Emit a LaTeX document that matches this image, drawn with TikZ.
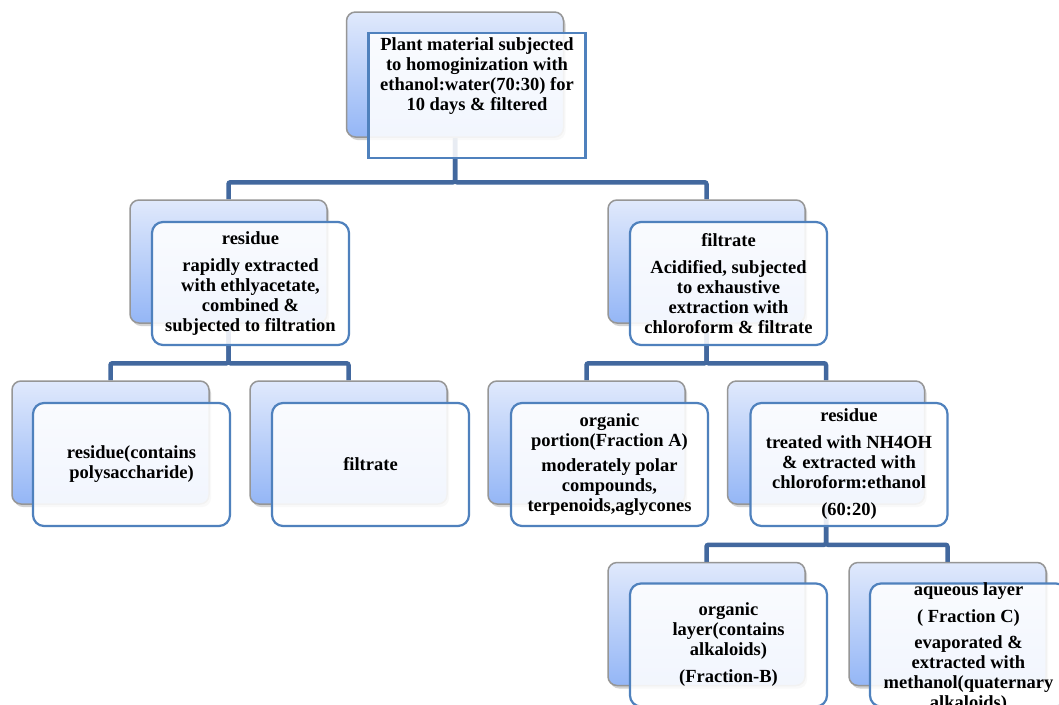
\documentclass[tikz,border=0pt]{standalone}
\usepackage{fontspec}
\setmainfont{Liberation Serif}
\usetikzlibrary{shadows, backgrounds}
\definecolor{linkblue}{RGB}{66,104,158}
\definecolor{edgeblue}{RGB}{79,129,189}
\definecolor{cardtop}{RGB}{224,233,252}
\definecolor{cardbot}{RGB}{148,182,246}
\definecolor{cardgray}{RGB}{150,150,150}
\tikzset{backbox/.style={rectangle, rounded corners=9pt, draw=cardgray, line width=1.5pt,
  top color=cardtop, bottom color=cardbot, minimum width=197pt, minimum height=123pt,
  drop shadow={shadow xshift=2pt, shadow yshift=-3pt, opacity=0.35}}}
\tikzset{frontbox/.style={rectangle, rounded corners=11pt, draw=edgeblue, line width=2.2pt,
  fill=white, fill opacity=0.88, minimum width=197pt, minimum height=123pt}}
\tikzset{boxtext/.style={align=center, font=\fontsize{18.5}{20}\selectfont\bfseries, inner sep=0pt}}
\tikzset{link/.style={draw=linkblue, line width=4.5pt, rounded corners=2pt}}

\begin{document}
\begin{tikzpicture}[x=1pt, y=-1pt]
\useasboundingbox (0,0) rectangle (1059,704);
\clip (0,0) rectangle (1059,704);

% back cards
\node[backbox, minimum width=217pt, minimum height=125pt] (B0) at (455,74.5) {};
\node[backbox] (B1) at (228.5,261.5) {};
\node[backbox] (B2) at (706.5,261.5) {};
\node[backbox] (B3) at (110.5,442.5) {};
\node[backbox] (B4) at (348.5,442.5) {};
\node[backbox] (B5) at (586.5,442.5) {};
\node[backbox] (B6) at (826,442.5) {};
\node[backbox] (B7) at (706.5,624) {};
\node[backbox] (B8) at (947.5,624) {};

% front cards
\node[frontbox, sharp corners, minimum width=217pt, minimum height=125pt] (F0) at ([shift={(22,21)}]B0.center) {};
\node[frontbox] (F1) at ([shift={(22,22)}]B1.center) {};
\node[frontbox] (F2) at ([shift={(22,22)}]B2.center) {};
\node[frontbox] (F3) at ([shift={(21,22)}]B3.center) {};
\node[frontbox] (F4) at ([shift={(22,22)}]B4.center) {};
\node[frontbox] (F5) at ([shift={(23,22)}]B5.center) {};
\node[frontbox] (F6) at ([shift={(23,22)}]B6.center) {};
\node[frontbox] (F7) at ([shift={(22,21)}]B7.center) {};
\node[frontbox] (F8) at ([shift={(21,21)}]B8.center) {};

% texts
\node[boxtext] (T0) at ([yshift=19pt]F0.center) {Plant material subjected\\to homoginization with\\ethanol:water(70:30) for\\10 days \& filtered};
\node[boxtext] (T1) at (F1) {residue\\[7pt]rapidly extracted\\with ethlyacetate,\\combined \&\\subjected to filtration};
\node[boxtext] (T2) at (F2) {filtrate\\[7pt]Acidified, subjected\\to exhaustive\\extraction with\\chloroform \& filtrate};
\node[boxtext] (T3) at (F3) {residue(contains\\polysaccharide)};
\node[boxtext] (T4) at (F4) {filtrate};
\node[boxtext] (T5) at (F5) {organic\\portion(Fraction A)\\[5pt]moderately polar\\compounds,\\terpenoids,aglycones};
\node[boxtext] (T6) at (F6) {residue\\[7pt]treated with NH4OH\\\& extracted with\\chloroform:ethanol\\[7pt](60:20)};
\node[boxtext] (T7) at (F7) {organic\\layer(contains\\alkaloids)\\[7pt](Fraction-B)};
\node[boxtext] (T8) at ([yshift=-3pt]F8.center) {aqueous layer\\[7pt]( Fraction C)\\[6pt]evaporated \&\\extracted with\\methanol(quaternary\\alkaloids)};

% connectors
\begin{scope}[on background layer]
\fill[white] (0,0) rectangle (1059,704);
\foreach \a/\b in {B0/B1, B0/B2, B1/B3, B1/B4, B2/B5, B2/B6, B6/B7, B6/B8}
  \draw[link] (\a.south) |- ([yshift=17pt]\b.north) -- (\b.north);
\end{scope}
\end{tikzpicture}
\end{document}
